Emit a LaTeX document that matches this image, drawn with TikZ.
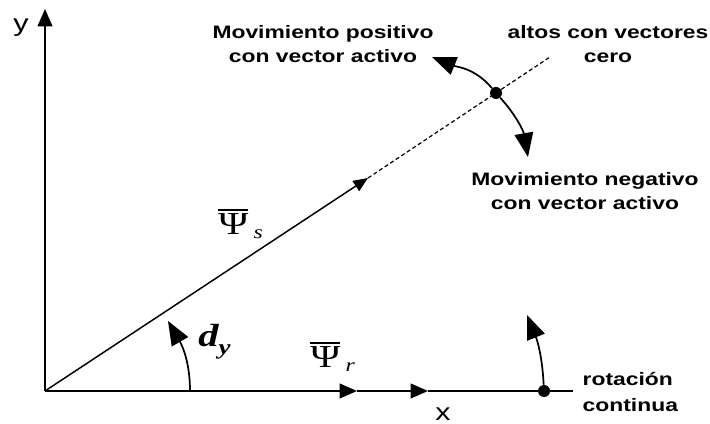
\documentclass[tikz,border=0pt]{standalone}
\usepackage{fontspec}
\setmainfont{Liberation Sans}
\newfontfamily\serif{Liberation Serif}
\usetikzlibrary{arrows.meta}
\newcommand{\stretchx}[1]{\scalebox{1.27}[1]{#1}}
\newcommand{\barpsi}{\vbox{\hrule height 1.2pt\kern 2.5pt\hbox{\serif Ψ}}}

\begin{document}
\begin{tikzpicture}[
    x=0.75pt, y=0.75pt,
    axis/.style={-{Triangle[length=13pt, width=11pt]}, line width=1.5pt},
    vec/.style={-{Triangle[length=11pt, width=9pt]}, line width=1.1pt},
    trace/.style={dash pattern=on 3pt off 2pt, line width=0.9pt},
    turn/.style={-{Triangle[length=18pt, width=14pt]}, line width=1.3pt},
    dot/.style={circle, fill=black, inner sep=0pt, minimum size=9pt},
    lbl/.style={font=\fontsize{13.5}{18.5}\selectfont\bfseries, align=center},
    sym/.style={font=\fontsize{24}{28}\selectfont\serif, anchor=base west, inner sep=0pt}
]
\useasboundingbox (0,0) rectangle (710,424);

% Points
\coordinate (O) at (45,33);
\coordinate (ytip) at (45,415);
\coordinate (xend) at (573,33);
\coordinate (psir) at (357,33);
\coordinate (xmid) at (428,33);
\coordinate (psis) at (368,246);
\coordinate (tend) at (550,367);
\coordinate (pos) at (432,367);
\coordinate (neg) at (528,267);
\coordinate (rot) at (527,109);
\coordinate (abase) at (190,33);
\coordinate (atip) at (168,103);

% Axes
\draw[axis] (O) -- (ytip);
\draw[axis] (O) -- (psir);
\draw[axis] (psir) -- (xmid);
\draw[line width=1.5pt] (xmid) -- (xend);
\node[font=\fontsize{18}{20}\selectfont] (ylab) at (21,396) {\stretchx{y}};
\node[font=\fontsize{18}{20}\selectfont, anchor=base, inner sep=0pt] (xlab) at (443,3) {\stretchx{x}};

% Stator flux vector and its trajectory
\draw[vec] (O) -- (psis);
\draw[trace] (psis) -- (tend);
\node[dot] (stop) at (496,331) {};
\node[dot] (xdot) at (544,33) {};

% Movements
\draw[turn] (stop) to[out=130, in=-22] (pos);
\draw[turn] (stop) to[out=-48, in=100] (neg);
\draw[turn] (xdot) to[out=93, in=-68] (rot);
\draw[turn] (abase) to[out=90, in=-60] (atip);

% Labels
\node[sym] (lpsis) at (218,189) {\stretchx{\barpsi}\,\raisebox{-3pt}{\fontsize{14}{16}\selectfont\itshape\stretchx{s}}};
\node[sym] (lpsir) at (310,56) {\stretchx{\barpsi}\,\raisebox{-3pt}{\fontsize{14}{16}\selectfont\itshape\stretchx{r}}};
\node[sym, font=\fontsize{24}{28}\selectfont\serif\bfseries\itshape] (ldy) at (198,77) {\stretchx{d}\raisebox{-6pt}{\fontsize{16}{18}\selectfont\stretchx{y}}};
\node[lbl] (lpos) at (323,380) {\stretchx{Movimiento positivo}\\\stretchx{con vector activo}};
\node[lbl] (lzero) at (608,380) {\stretchx{altos con vectores}\\\stretchx{cero}};
\node[lbl] (lneg) at (585,233) {\stretchx{Movimiento negativo}\\\stretchx{con vector activo}};
\node[lbl, font=\fontsize{13.5}{20}\selectfont\bfseries, align=left, anchor=west] (lrot) at (578,32) {\stretchx{rotación}\\\stretchx{continua}};

\end{tikzpicture}
\end{document}
